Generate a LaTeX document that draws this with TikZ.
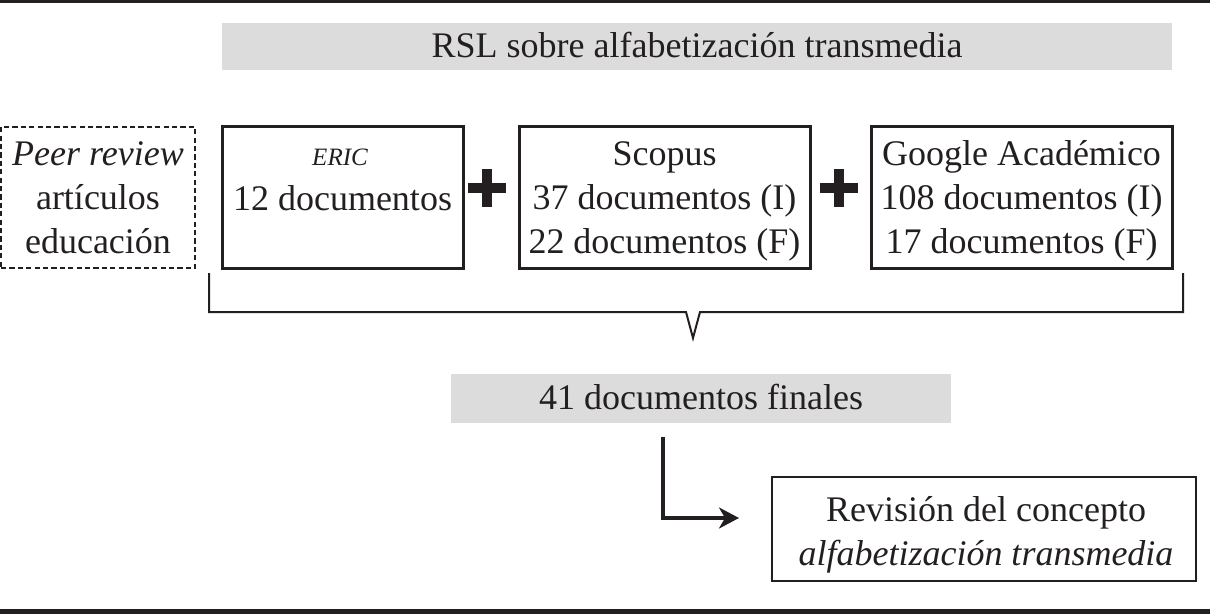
\documentclass[tikz,border=0pt]{standalone}
\usepackage{fontspec}
\setmainfont{Liberation Serif}
\usetikzlibrary{arrows.meta}
\definecolor{ink}{RGB}{35,31,32}
\definecolor{grayfill}{RGB}{220,220,220}
\tikzset{
  txt/.style={font=\fontsize{18pt}{22pt}\selectfont, text=ink, align=center, inner sep=0pt},
  graybox/.style={txt, fill=grayfill, draw=none},
  solidbox/.style={txt, draw=ink, line width=1.5pt},
  dashbox/.style={txt, draw=ink, line width=0.8pt, dash pattern=on 2.6pt off 1.6pt},
  smallit/.style={font=\fontsize{12.5pt}{15pt}\selectfont\itshape, text=ink, inner sep=0pt},
  conn/.style={draw=ink, line width=1pt},
  arr/.style={draw=ink, line width=1.6pt, -{Stealth[length=10pt, width=10.5pt, inset=3pt]}},
}
\begin{document}
\begin{tikzpicture}[x=0.5pt, y=-0.5pt]
\useasboundingbox (0,0) rectangle (1210,615);
% rules
\fill[ink] (0,0) rectangle (1210,3);
\fill[ink] (0,609) rectangle (1210,614);
% title
\node[graybox, minimum width=475pt, minimum height=23.5pt] (title) at (697,46.5) {};
\node[txt] (titletxt) at (697,45.5) {RSL sobre alfabetización transmedia};
% dashed
\node[dashbox, minimum width=97pt, minimum height=70.5pt] (peer) at (98,197.5) {};
\node[txt] (peertxt) at (98,198) {\textit{Peer review}\\artículos\\educación};
% ERIC
\node[solidbox, minimum width=120.5pt, minimum height=70.5pt] (eric) at (342.5,197.5) {};
\node[smallit] (ericlab) at (340,157) {ERIC};
\node[txt] (ericdoc) at (342.5,198) {12 documentos};
% Scopus
\node[solidbox, minimum width=145.5pt, minimum height=70.5pt] (scopus) at (664.5,197.5) {};
\node[txt] (scopustxt) at (664.5,201) {Scopus\\37 documentos (I)\\22 documentos (F)};
% Google
\node[solidbox, minimum width=150.5pt, minimum height=70.5pt] (google) at (1021.5,197.5) {};
\node[txt] (googletxt) at (1021.5,201) {Google Académico\\108 documentos (I)\\17 documentos (F)};
% plus signs
\node[inner sep=0pt, minimum size=19pt] (plusa) at (487,188) {};
\fill[ink] (468,183) rectangle (506,193);
\fill[ink] (482,169) rectangle (492,207);
\node[inner sep=0pt, minimum size=19pt] (plusb) at (839,188) {};
\fill[ink] (820,183) rectangle (858,193);
\fill[ink] (834,169) rectangle (844,207);
% brace
\coordinate (bl) at (209,273);
\coordinate (br) at (1183,273);
\draw[conn] (bl) -- (209,312) -- (686,312) -- (693,338) -- (700,312) -- (1183,312) -- (br);
% finales
\node[graybox, minimum width=250pt, minimum height=24.5pt] (fin) at (701,398.5) {};
\node[txt] (fintxt) at (701,397) {41 documentos finales};
% revision
\node[solidbox, line width=1.3pt, minimum width=212pt, minimum height=52pt] (rev) at (984,529) {};
\node[txt] (revtxt) at (986,535) {Revisión del concepto\\\textit{alfabetización transmedia}};
% arrow
\coordinate (astart) at (663,437);
\coordinate (aend) at (739,518);
\draw[arr] (astart) |- (aend);
\end{tikzpicture}
\end{document}
